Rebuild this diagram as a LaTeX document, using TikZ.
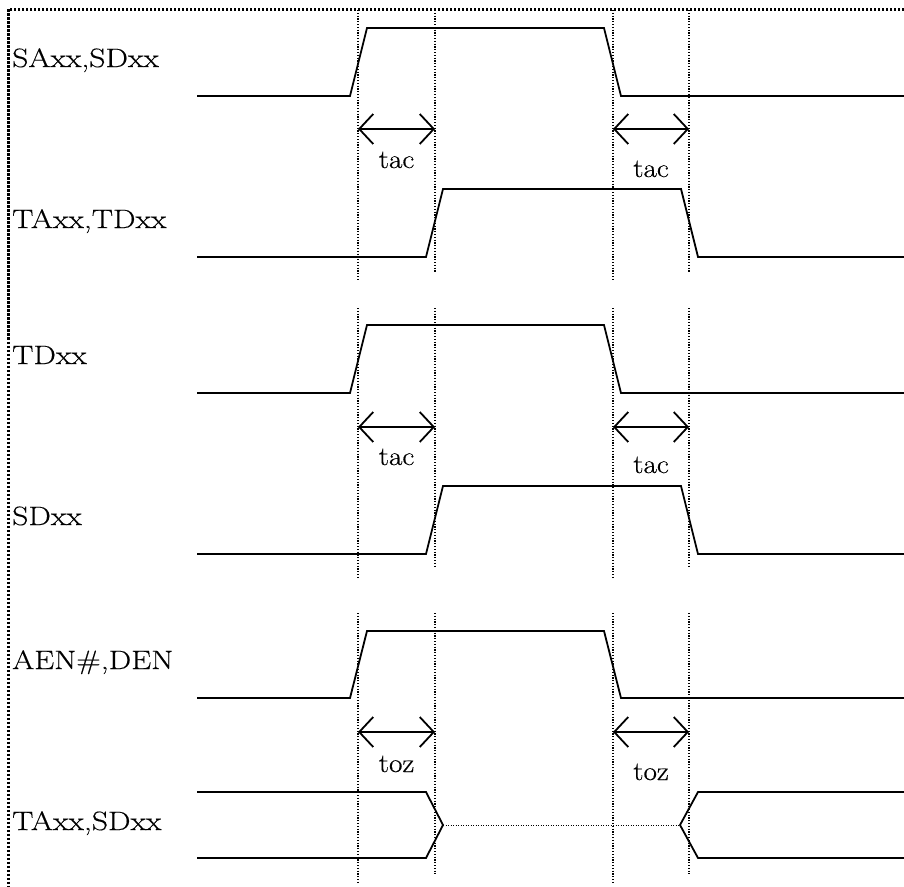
\documentclass[tikz,border=0pt]{standalone}
\usepackage{fontspec}
\setmainfont{Latin Modern Roman}[FakeStretch=1.1,FakeBold=0.4]
\newfontfamily\sigfont{Latin Modern Roman}[FakeStretch=1.2,FakeBold=0.4]
\usetikzlibrary{arrows.meta}
\begin{document}
\begin{tikzpicture}[x=1pt,y=-1pt,
  wave/.style={line width=1.8pt, line join=miter},
  guide/.style={line width=1.3pt, dash pattern=on 1.2pt off 1.6pt},
  midline/.style={line width=1pt, dash pattern=on 1pt off 1.5pt},
  dimarrow/.style={line width=1.8pt, {Straight Barb[length=14pt,width=30pt]}-{Straight Barb[length=14pt,width=30pt]}},
  sig/.style={anchor=base west, inner sep=0pt, font=\sigfont\fontsize{26.5}{30}\selectfont},
  tlabel/.style={anchor=base, inner sep=0pt, font=\fontsize{26.5}{30}\selectfont},
  framestyle/.style={line width=3pt, dash pattern=on 2.2pt off 1.8pt}]
\useasboundingbox (0,0) rectangle (904,886);

% frame
\coordinate (fTL) at (8.5,9);
\coordinate (fTR) at (904,9);
\coordinate (fBL) at (8.5,886);
\draw[framestyle] (fTR) -- (fTL) -- (fBL);

% labels
\node[sig] (l1) at (12,67) {SAxx,SDxx};
\node[sig] (l2) at (12,228) {TAxx,TDxx};
\node[sig] (l3) at (12,364) {TDxx};
\node[sig] (l4) at (12,525) {SDxx};
\node[sig] (l5) at (12,669) {AEN\#,DEN};
\node[sig] (l6) at (12,830) {TAxx,SDxx};

% ---------- group 1 ----------
\draw[wave] (197,96) -- (350,96) -- (367,28) -- (604,28) -- (621,96) -- (904,96);
\draw[wave] (197,257) -- (426,257) -- (443,189) -- (681,189) -- (698,257) -- (904,257);
\draw[guide] (358,10) -- (358,280);
\draw[guide] (435,10) -- (435,272);
\draw[guide] (613,10) -- (613,280);
\draw[guide] (689,10) -- (689,272);
\coordinate (a1l) at (358,129); \coordinate (a1r) at (435,129);
\coordinate (b1l) at (613,129); \coordinate (b1r) at (689,129);
\draw[dimarrow] (a1l) -- (a1r);
\draw[dimarrow] (b1l) -- (b1r);
\node[tlabel] (t1a) at (396.5,168) {tac};
\node[tlabel] (t1b) at (651,177) {tac};

% ---------- group 2 ----------
\draw[wave] (197,393) -- (350,393) -- (367,325) -- (604,325) -- (621,393) -- (904,393);
\draw[wave] (197,554) -- (426,554) -- (443,486) -- (681,486) -- (698,554) -- (904,554);
\draw[guide] (358,308) -- (358,577);
\draw[guide] (435,308) -- (435,568);
\draw[guide] (613,308) -- (613,577);
\draw[guide] (689,308) -- (689,568);
\coordinate (a2l) at (358,427); \coordinate (a2r) at (435,427);
\coordinate (b2l) at (613,427); \coordinate (b2r) at (689,427);
\draw[dimarrow] (a2l) -- (a2r);
\draw[dimarrow] (b2l) -- (b2r);
\node[tlabel] (t2a) at (396.5,465) {tac};
\node[tlabel] (t2b) at (651,473) {tac};

% ---------- group 3 ----------
\draw[wave] (197,698) -- (350,698) -- (367,631) -- (604,631) -- (621,698) -- (904,698);
\draw[wave] (197,792) -- (426,792) -- (443,825) -- (426,858) -- (197,858);
\draw[wave] (904,792) -- (698,792) -- (680,825) -- (698,858) -- (904,858);
\coordinate (zl) at (443,825); \coordinate (zr) at (680,825);
\draw[midline] (zl) -- (zr);
\draw[guide] (358,613) -- (358,883);
\draw[guide] (435,613) -- (435,874);
\draw[guide] (613,613) -- (613,883);
\draw[guide] (689,613) -- (689,874);
\coordinate (a3l) at (358,732); \coordinate (a3r) at (435,732);
\coordinate (b3l) at (613,732); \coordinate (b3r) at (689,732);
\draw[dimarrow] (a3l) -- (a3r);
\draw[dimarrow] (b3l) -- (b3r);
\node[tlabel] (t3a) at (396.5,772) {toz};
\node[tlabel] (t3b) at (651,780) {toz};
\end{tikzpicture}
\end{document}
